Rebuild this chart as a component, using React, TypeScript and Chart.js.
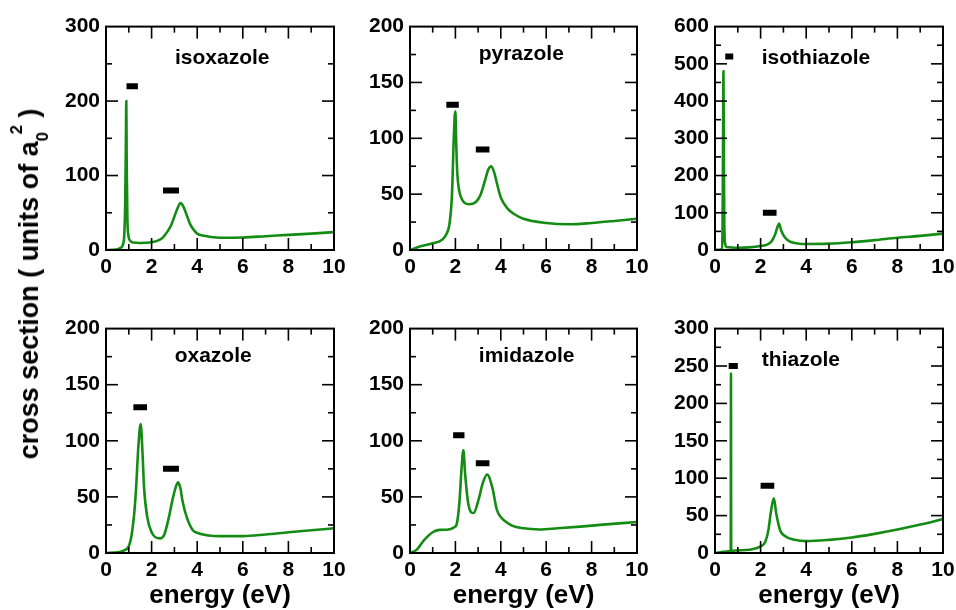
import React, { useEffect, useRef } from "react";
import { Chart, registerables } from "chart.js";

Chart.register(...registerables);

// ---------------- data ----------------
const panelNames = ["isoxazole", "pyrazole", "isothiazole", "oxazole", "imidazole", "thiazole"];
const yAxisMax = [300, 200, 600, 200, 200, 300];
const yAxisStep = [100, 50, 100, 50, 50, 50];
const xAxisMax = 10;
const xAxisStep = 2;

const isoxazoleX = [0, 0.3, 0.5, 0.65, 0.75, 0.8, 0.84, 0.87, 0.89, 0.91, 0.94, 0.98, 1.05, 1.2, 1.5, 2.0, 2.3, 2.5, 2.7, 2.85, 3.0, 3.15, 3.27, 3.4, 3.55, 3.7, 3.85, 4.0, 4.3, 4.6, 5.0, 6.0, 7.0, 8.0, 9.0, 10.0];
const isoxazoleY = [0, 0.3, 1, 3, 8, 20, 60, 140, 200, 110, 40, 20, 13, 10, 9.5, 10.5, 13, 17, 25, 33, 45, 57, 63, 58, 46, 34, 27, 22, 19, 17.5, 16.5, 16.8, 18.5, 20.3, 22, 24];
const isoxazoleBars = [[0.9, 1.4, 220], [2.5, 3.2, 80]];

const pyrazoleX = [0, 0.5, 1.0, 1.4, 1.6, 1.75, 1.85, 1.92, 1.97, 2.0, 2.03, 2.08, 2.15, 2.3, 2.6, 2.9, 3.1, 3.3, 3.45, 3.58, 3.7, 3.85, 4.0, 4.3, 4.6, 5.0, 6.0, 7.0, 8.0, 9.0, 10.0];
const pyrazoleY = [0, 3.5, 6, 9, 14, 25, 50, 95, 120, 124, 100, 70, 55, 45, 41, 43, 49, 62, 72, 75, 70, 58, 47, 37, 32, 28, 24.2, 23, 24.2, 26, 28];
const pyrazoleBars = [[1.6, 2.15, 130], [2.9, 3.5, 90]];

const isothiazoleX = [0, 0.2, 0.3, 0.33, 0.35, 0.37, 0.39, 0.41, 0.45, 0.5, 1.0, 1.5, 2.0, 2.3, 2.5, 2.65, 2.75, 2.81, 2.9, 3.0, 3.15, 3.4, 3.7, 4.0, 5.0, 6.0, 7.0, 8.0, 9.0, 10.0];
const isothiazoleY = [0, 0.5, 3, 60, 250, 480, 250, 60, 15, 8, 6, 7, 10.6, 15, 25, 44, 64, 71, 53, 40, 28, 20, 17, 16, 17, 21, 26.5, 33, 38, 44];
const isothiazoleBars = [[0.45, 0.8, 520], [2.1, 2.7, 100]];

const oxazoleX = [0, 0.5, 0.8, 1.0, 1.13, 1.25, 1.32, 1.42, 1.52, 1.6, 1.67, 1.81, 2.0, 2.37, 2.55, 2.76, 2.9, 3.05, 3.16, 3.26, 3.36, 3.54, 3.8, 4.0, 4.5, 5.0, 6.0, 7.0, 8.0, 9.0, 10.0];
const oxazoleY = [0, 0.6, 2.4, 6, 17, 38, 58, 95, 115, 90, 58, 32, 18.5, 13, 16, 32, 46, 58, 63, 58, 46, 32, 20.6, 18, 15.6, 15, 15, 16.5, 18.5, 20.3, 22];
const oxazoleBars = [[1.2, 1.8, 130], [2.5, 3.2, 75]];

const imidazoleX = [0, 0.3, 0.6, 1.0, 1.3, 1.7, 1.95, 2.06, 2.18, 2.27, 2.35, 2.43, 2.57, 2.8, 3.04, 3.2, 3.4, 3.63, 3.82, 4.0, 4.5, 5.0, 5.7, 6.5, 7.5, 8.5, 10.0];
const imidazoleY = [0, 3, 11, 18.5, 20.6, 21, 23, 26, 46, 75, 91.5, 70, 43.5, 35.6, 49, 62, 70, 58, 39, 32, 24.4, 22, 21, 22, 23.5, 25.3, 27.6];
const imidazoleBars = [[1.9, 2.4, 105], [2.9, 3.5, 80]];

const thiazoleX = [0, 0.5, 0.68, 0.69, 0.70, 0.71, 0.72, 1.0, 1.5, 2.0, 2.2, 2.34, 2.45, 2.58, 2.69, 2.86, 3.03, 3.5, 4.0, 5.0, 6.0, 7.0, 8.0, 9.0, 10.0];
const thiazoleY = [0, 1.8, 2.6, 3, 240, 3, 3, 3.5, 4.4, 8.8, 14.6, 30, 55, 73, 52, 30, 23.4, 17.6, 15.9, 17.6, 20.7, 25.6, 31.3, 38, 45.4];
const thiazoleBars = [[0.6, 1.0, 250], [2.0, 2.6, 90]];

const curveX = [isoxazoleX, pyrazoleX, isothiazoleX, oxazoleX, imidazoleX, thiazoleX];
const curveY = [isoxazoleY, pyrazoleY, isothiazoleY, oxazoleY, imidazoleY, thiazoleY];
const levelBars = [isoxazoleBars, pyrazoleBars, isothiazoleBars, oxazoleBars, imidazoleBars, thiazoleBars];

const xAxisTitle = "energy (eV)";

// ---------------- layout / style ----------------
const FONT = "'Liberation Sans', Arial, Helvetica, sans-serif";
const GREEN = "#148c14";
const YW = 70; // y-axis box width
const PT = 16; // top padding
const PR = 22; // right padding
const MAJOR_LEN = 12;
const MINOR_LEN = 6;
const TICK_W = 1.6;
const LAYOUT = [
  { left: 106, top: 24, w: 228, h: 226, xh: 40, title: false, lx: 5.1, ly: 250 },
  { left: 410, top: 24, w: 227, h: 226, xh: 40, title: false, lx: 4.9, ly: 170 },
  { left: 715, top: 24, w: 228, h: 226, xh: 40, title: false, lx: 4.43, ly: 500 },
  { left: 106, top: 326, w: 228, h: 227, xh: 56, title: true, lx: 4.7, ly: 170 },
  { left: 410, top: 326, w: 227, h: 227, xh: 56, title: true, lx: 5.14, ly: 170 },
  { left: 715, top: 326, w: 228, h: 227, xh: 56, title: true, lx: 3.77, ly: 250 },
];

function PanelChart({ i }: { i: number }) {
  const ref = useRef<HTMLCanvasElement>(null);
  const L = LAYOUT[i];
  const cw = YW + L.w + PR;
  const ch = PT + L.h + L.xh;

  useEffect(() => {
    const xs = curveX[i];
    const ys = curveY[i];
    const datasets: any[] = [
      {
        data: xs.map((x, k) => ({ x, y: ys[k] })),
        borderColor: GREEN,
        borderWidth: 2.6,
        pointRadius: 0,
        cubicInterpolationMode: "monotone",
        fill: false,
      },
    ];
    levelBars[i].forEach(([x1, x2, y]) => {
      datasets.push({
        data: [
          { x: x1, y },
          { x: x2, y },
        ],
        borderColor: "#000",
        borderWidth: 6,
        borderCapStyle: "butt",
        pointRadius: 0,
        fill: false,
      });
    });

    const yStep = yAxisStep[i];
    const yMax = yAxisMax[i];

    const overlay = {
      id: "overlay",
      afterDraw(chart: any) {
        const { ctx, chartArea: a, scales } = chart;
        ctx.save();
        ctx.setLineDash([]);
        ctx.globalAlpha = 1;
        ctx.fillStyle = "#000";
        for (let v = 1; v < xAxisMax; v += 1) {
          const px = scales.x.getPixelForValue(v);
          const len = v % xAxisStep === 0 ? MAJOR_LEN : MINOR_LEN;
          ctx.fillRect(px - TICK_W / 2, a.bottom - len, TICK_W, len);
          ctx.fillRect(px - TICK_W / 2, a.top, TICK_W, len);
        }
        const minor = yStep / 2;
        for (let v = minor; v < yMax - 1e-9; v += minor) {
          const py = scales.y.getPixelForValue(v);
          const isMajor = Math.abs(v / yStep - Math.round(v / yStep)) < 1e-6;
          const len = isMajor ? MAJOR_LEN : MINOR_LEN;
          ctx.fillRect(a.left, py - TICK_W / 2, len, TICK_W);
          ctx.fillRect(a.right - len, py - TICK_W / 2, len, TICK_W);
        }
        ctx.strokeStyle = "#000";
        ctx.lineWidth = 2;
        ctx.strokeRect(a.left, a.top, a.right - a.left, a.bottom - a.top);

        ctx.font = `bold 21px ${FONT}`;
        ctx.textAlign = "center";
        ctx.textBaseline = "alphabetic";
        ctx.fillText(panelNames[i], scales.x.getPixelForValue(L.lx), scales.y.getPixelForValue(L.ly));

        if (L.title) {
          ctx.font = `bold 26px ${FONT}`;
          ctx.fillText(xAxisTitle, (a.left + a.right) / 2, a.bottom + 50);
        }
        ctx.restore();
      },
    };

    const chart = new Chart(ref.current as HTMLCanvasElement, {
      type: "line",
      data: { datasets },
      options: {
        animation: false,
        responsive: false,
        devicePixelRatio: 1,
        layout: { padding: { top: PT, right: PR, left: 0, bottom: 0 } },
        plugins: { legend: { display: false }, tooltip: { enabled: false } },
        scales: {
          x: {
            type: "linear",
            min: 0,
            max: xAxisMax,
            ticks: {
              stepSize: xAxisStep,
              color: "#000",
              font: { family: FONT, size: 21, weight: "bold" },
              padding: 5,
              maxRotation: 0,
              autoSkip: false,
            },
            grid: { display: false, drawTicks: false },
            border: { display: false },
            afterFit: (s: any) => {
              s.height = L.xh;
            },
          },
          y: {
            type: "linear",
            min: 0,
            max: yMax,
            ticks: {
              stepSize: yStep,
              color: "#000",
              font: { family: FONT, size: 21, weight: "bold" },
              padding: 6,
              autoSkip: false,
            },
            grid: { display: false, drawTicks: false },
            border: { display: false },
            afterFit: (s: any) => {
              s.width = YW;
            },
          },
        },
      } as any,
      plugins: [overlay],
    });
    return () => chart.destroy();
  }, []);

  return (
    <canvas
      ref={ref}
      width={cw}
      height={ch}
      style={{
        position: "absolute",
        left: L.left - YW,
        top: L.top - PT,
        width: cw,
        height: ch,
      }}
    />
  );
}

export default function App() {
  return (
    <div
      style={{
        position: "absolute",
        left: 0,
        top: 0,
        width: 956,
        height: 610,
        overflow: "hidden",
        background: "#fff",
      }}
    >
      {panelNames.map((_, i) => (
        <PanelChart key={i} i={i} />
      ))}
      <div
        style={{
          position: "absolute",
          left: 31,
          top: 284,
          transform: "translate(-50%, -50%) rotate(-90deg)",
          whiteSpace: "nowrap",
          fontFamily: FONT,
          fontWeight: "bold",
          fontSize: 27,
          lineHeight: "30px",
          color: "#000",
        }}
      >
        cross section ( units of a
        <span style={{ position: "relative", fontSize: "0.62em", top: "0.6em" }}>0</span>
        <span style={{ position: "relative", fontSize: "0.62em", top: "-0.95em", marginLeft: "-0.15em" }}>2</span>
        {" )"}
      </div>
    </div>
  );
}
